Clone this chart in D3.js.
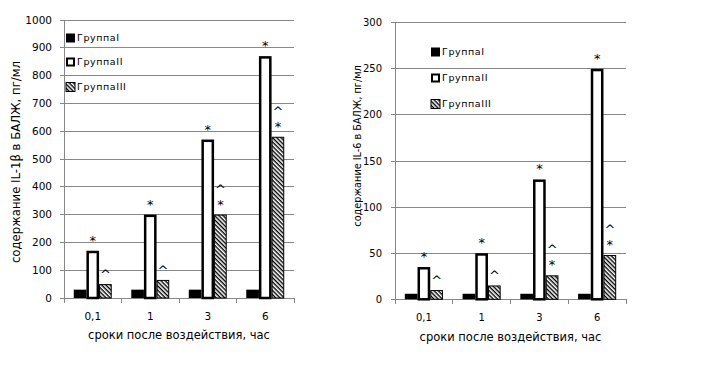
<!DOCTYPE html>
<html><head><meta charset="utf-8">
<script src="https://cdn.jsdelivr.net/npm/d3@7"></script>
<style>body{margin:0;background:#fff}svg{display:block;font-family:"DejaVu Sans",Verdana,sans-serif}</style>
</head><body><svg id="c" width="713" height="378"></svg>
<script>
const categories = ["0,1", "1", "3", "6"];
const groups = ["Группа I", "Группа II", "Группа III"];
// chart 1: IL-1β
const il1GroupI = [30, 30, 30, 30];
const il1GroupII = [170, 300, 570, 870];
const il1GroupIII = [50, 65, 300, 580];
const il1Ticks = [0, 100, 200, 300, 400, 500, 600, 700, 800, 900, 1000];
const il1MarksII = ["*", "*", "*", "*"];
const il1MarksIII = [["^"], ["^"], ["*", "^"], ["*", "^"]];
// chart 2: IL-6
const il6GroupI = [6, 6, 6, 6];
const il6GroupII = [35, 50, 130, 250];
const il6GroupIII = [10, 15, 26, 48];
const il6Ticks = [0, 50, 100, 150, 200, 250, 300];
const il6MarksII = ["*", "*", "*", "*"];
const il6MarksIII = [["^"], ["^"], ["*", "^"], ["*", "^"]];

const svg = d3.select("#c");
const defs = svg.append("defs");
const pat = defs.append("pattern").attr("id", "hatch").attr("patternUnits", "userSpaceOnUse")
  .attr("width", 3).attr("height", 3).attr("patternTransform", "rotate(45)");
pat.append("rect").attr("width", 3).attr("height", 3).attr("fill", "#fff");
pat.append("rect").attr("width", 3).attr("height", 1.4).attr("fill", "#000");

function chart(o) {
  const g = svg.append("g");
  const y = d3.scaleLinear().domain([0, o.max]).range([o.bottom, o.top]);
  const x0 = d3.scaleBand().domain(categories).range([o.left, o.right]);
  const bw = x0.bandwidth();
  const x1 = d3.scaleBand().domain(groups).range([bw * 0.17, bw * 0.83]);
  g.selectAll("line.grid").data(o.ticks).join("line")
    .attr("x1", o.left - 4).attr("x2", o.right)
    .attr("y1", d => y(d)).attr("y2", d => y(d))
    .attr("stroke", "#888").attr("stroke-width", 1).attr("shape-rendering", "crispEdges");
  g.selectAll("text.yt").data(o.ticks).join("text")
    .attr("x", o.left - o.tickGap).attr("y", d => y(d)).attr("dy", "0.35em")
    .attr("text-anchor", "end").attr("font-size", o.tickFont).attr("fill", "#000").text(d => d);
  g.append("line").attr("x1", o.left).attr("x2", o.left).attr("y1", o.top).attr("y2", o.bottom + 5)
    .attr("stroke", "#888").attr("shape-rendering", "crispEdges");
  const bounds = categories.map(c => x0(c)).concat([o.right]);
  g.selectAll("line.xt").data(bounds).join("line")
    .attr("x1", d => d).attr("x2", d => d).attr("y1", o.bottom).attr("y2", o.bottom + 5)
    .attr("stroke", "#888").attr("shape-rendering", "crispEdges");
  g.selectAll("text.xl").data(categories).join("text")
    .attr("x", d => x0(d) + bw / 2).attr("y", o.bottom + 18).attr("dy", "0.35em")
    .attr("text-anchor", "middle").attr("font-size", o.tickFont).text(d => d);
  const bwi = x1.bandwidth();
  const series = [o.s1, o.s2, o.s3];
  categories.forEach((c, i) => {
    const gx = x0(c);
    g.append("rect").attr("x", gx + x1(groups[0])).attr("y", y(series[0][i]))
      .attr("width", bwi).attr("height", o.bottom - y(series[0][i])).attr("fill", "#000");
    g.append("rect").attr("x", gx + x1(groups[1]) + 1.25).attr("y", y(series[1][i]) + 1.25)
      .attr("width", bwi - 2.5).attr("height", o.bottom - y(series[1][i]) - 1.25)
      .attr("fill", "#fff").attr("stroke", "#000").attr("stroke-width", 2.5);
    g.append("rect").attr("x", gx + x1(groups[2]) + 0.5).attr("y", y(series[2][i]) + 0.5)
      .attr("width", bwi - 1).attr("height", o.bottom - y(series[2][i]) - 0.5)
      .attr("fill", "url(#hatch)").attr("stroke", "#000").attr("stroke-width", 1);
    g.append("text").attr("x", gx + x1(groups[1]) + bwi / 2).attr("y", y(series[1][i]) - 6)
      .attr("text-anchor", "middle").attr("font-size", 13).text(o.m2[i]);
    o.m3[i].forEach((m, k) => {
      const off = o.m3[i].length === 1 ? 5 : (k === 0 ? 6 : 21);
      g.append("text").attr("x", gx + x1(groups[2]) + bwi / 2).attr("y", y(series[2][i]) - off)
        .attr("text-anchor", "middle").attr("font-size", 13).text(m);
    });
  });
  const lg = g.append("g");
  groups.forEach((gr, k) => {
    const ly = o.legY[k];
    const r = lg.append("rect").attr("x", o.legX).attr("y", ly - 4.5).attr("width", 9).attr("height", 9);
    if (k === 0) r.attr("fill", "#000");
    else if (k === 1) r.attr("x", o.legX + 1).attr("y", ly - 3.5).attr("width", 7).attr("height", 7).attr("fill", "#fff").attr("stroke", "#000").attr("stroke-width", 2);
    else r.attr("fill", "url(#hatch)").attr("stroke", "#000").attr("stroke-width", 1);
    lg.append("text").attr("x", o.legX + 11).attr("y", ly).attr("dy", "0.35em")
      .attr("font-size", 9.5).attr("letter-spacing", 0.6).text(gr.replace(" ", ""));
  });
  g.append("text").attr("x", (o.left + o.right) / 2).attr("y", o.xTitleY).attr("dy", "0.35em")
    .attr("text-anchor", "middle").attr("font-size", 11.5).text(o.xTitle);
  g.append("text").attr("transform", `translate(${o.yTitleX},${o.yTitleY}) rotate(-90)`)
    .attr("dy", "0.35em").attr("text-anchor", "middle").attr("font-size", o.yTitleFont).text(o.yTitle);
}

chart({left: 64, right: 294, top: 20, bottom: 298, max: 1000, ticks: il1Ticks,
  s1: il1GroupI, s2: il1GroupII, s3: il1GroupIII, m2: il1MarksII, m3: il1MarksIII,
  tickFont: 10.5, tickGap: 12,
  legX: 66, legY: [38, 62, 87], xTitle: "сроки после воздействия, час", xTitleY: 335,
  yTitle: "содержание IL-1β в БАЛЖ, пг/мл", yTitleX: 16, yTitleY: 162, yTitleFont: 11.7});
chart({left: 395, right: 626, top: 22.7, bottom: 299.3, max: 300, ticks: il6Ticks,
  s1: il6GroupI, s2: il6GroupII, s3: il6GroupIII, m2: il6MarksII, m3: il6MarksIII,
  tickFont: 10, tickGap: 13,
  legX: 431, legY: [52, 78, 104], xTitle: "сроки после воздействия, час", xTitleY: 337,
  yTitle: "содержание IL-6 в БАЛЖ, пг/мл", yTitleX: 358, yTitleY: 146, yTitleFont: 9.7});
</script></body></html>
